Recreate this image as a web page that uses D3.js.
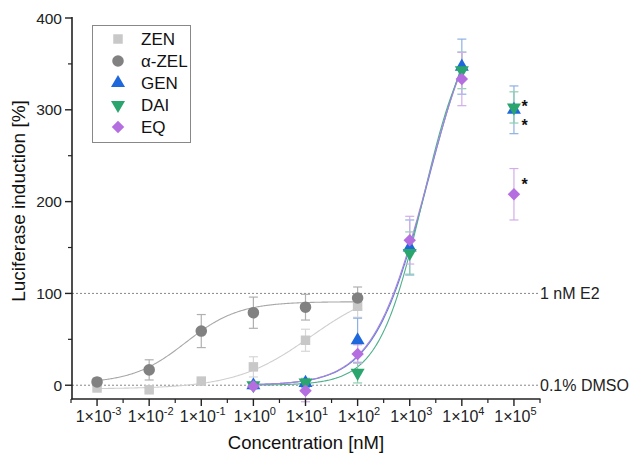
<!DOCTYPE html>
<html><head><meta charset="utf-8">
<script src="https://cdn.jsdelivr.net/npm/d3@7"></script>
<style>body{margin:0;background:#fff;} text{font-family:"Liberation Sans",Arial,sans-serif;}</style>
</head><body>
<svg id="c" width="630" height="457"></svg>
<script>
// ---- data ----
const xTickExps = [-3,-2,-1,0,1,2,3,4,5];
const yTicks = [0,100,200,300,400];
const seriesNames = ["ZEN","α-ZEL","GEN","DAI","EQ"];
const zenExp = [-3,-2,-1,0,1,2];
const zenVal = [-3,-5,4.5,20,49,86];
const zenErr = [2,2,2,11,12,12];
const azelExp = [-3,-2,-1,0,1,2];
const azelVal = [3.6,16.7,59,79,85,95];
const azelErr = [4,11,18,17,14,12];
const genExp = [0,1,2,3,4,5];
const genVal = [0,2.5,49,150,347,300];
const genErr = [3,5,24,30,30,26];
const daiExp = [0,1,2,3,4,5];
const daiVal = [0,3,13.5,144,343,302.6];
const daiErr = [3,4,11,23,20,17];
const eqExp = [0,1,2,3,4,5];
const eqVal = [-1,-6,34,158,333.5,208];
const eqErr = [3,12,10,26,29,28];
// 4PL fit parameters [bottom, top, logEC50, hill] and fitted range (log10 nM)
const zenFit = [-4,110,1.1,0.6], zenFitRange = [-3,2];
const azelFit = [2,91,-1.3,0.85], azelFitRange = [-3,2];
const genFit = [0,450,3.363,0.829], genFitRange = [0,4];
const daiFit = [0,400,3.243,1.029], daiFitRange = [0,4];
const eqFit = [0,440,3.33,0.83], eqFitRange = [0,4];
const refLines = [100,0];
const refLabels = ["1 nM E2","0.1% DMSO"];
const starVals = [302.6,300,208]; // DAI, GEN, EQ at 1e5 (significance markers)

const svg = d3.select("#c");
const x = d3.scaleLog().domain([Math.pow(10,-3.5),Math.pow(10,5.5)]).range([71,540]);
const y = d3.scaleLinear().domain([-15,400]).range([399,18]);

// reference lines
refLines.forEach((v,i)=>{
  svg.append("line").attr("x1",72).attr("x2",538).attr("y1",y(v)).attr("y2",y(v))
    .attr("stroke","#888").attr("stroke-width",1).attr("stroke-dasharray","2,2");
  svg.append("text").attr("x",540).attr("y",y(v)+5.5).attr("font-size",16).attr("fill","#222").text(refLabels[i]);
});

const fourPL = (p,e)=> p[0] + (p[1]-p[0])/(1+Math.pow(10,(p[2]-e)*p[3]));
const series = [
  {exp:zenExp,val:zenVal,err:zenErr,fit:zenFit,rng:zenFitRange,color:"#c8c8c8",line:"#cfcfcf",ebar:"#d6d6d6",shape:"square"},
  {exp:azelExp,val:azelVal,err:azelErr,fit:azelFit,rng:azelFitRange,color:"#818181",line:"#a8a8a8",ebar:"#b0b0b0",shape:"circle"},
  {exp:genExp,val:genVal,err:genErr,fit:genFit,rng:genFitRange,color:"#1f68dc",line:"#5a7fd0",ebar:"#8fb0e6",shape:"up"},
  {exp:daiExp,val:daiVal,err:daiErr,fit:daiFit,rng:daiFitRange,color:"#2aa56d",line:"#4fb08a",ebar:"#8ccfae",shape:"down"},
  {exp:eqExp,val:eqVal,err:eqErr,fit:eqFit,rng:eqFitRange,color:"#b46ee0",line:"#a983dd",ebar:"#d2ade9",shape:"diamond"}
];

// fitted curves
const line = d3.line().x(d=>x(Math.pow(10,d[0]))).y(d=>y(d[1])).curve(d3.curveLinear);
series.forEach(s=>{
  const pts = d3.range(s.rng[0], s.rng[1]+0.0001, 0.02).map(e=>[e,fourPL(s.fit,e)]);
  svg.append("path").attr("d",line(pts)).attr("fill","none").attr("stroke",s.line).attr("stroke-width",1.1);
});

// error bars
series.forEach(s=>{
  s.exp.forEach((e,i)=>{
    const cx = x(Math.pow(10,e));
    const g = svg.append("g").attr("stroke",s.ebar).attr("stroke-width",1.2);
    g.append("line").attr("x1",cx).attr("x2",cx).attr("y1",y(s.val[i]-s.err[i])).attr("y2",y(s.val[i]+s.err[i]));
    [s.val[i]-s.err[i], s.val[i]+s.err[i]].forEach(v=>{
      g.append("line").attr("x1",cx-4.5).attr("x2",cx+4.5).attr("y1",y(v)).attr("y2",y(v));
    });
  });
});

const symPath = {
  square: d3.symbol(d3.symbolSquare, 90)(),
  circle: d3.symbol(d3.symbolCircle, 105)(),
  up: d3.symbol(d3.symbolTriangle, 85)(),
  down: d3.symbol(d3.symbolTriangle, 85)(),
  diamond: d3.symbol(d3.symbolSquare, 78)()
};
function drawMarker(g, shape, cx, cy, color){
  let tr = `translate(${cx},${cy})`;
  if(shape==="down") tr += " rotate(180)";
  if(shape==="diamond") tr += " rotate(45)";
  g.append("path").attr("d",symPath[shape]).attr("transform",tr).attr("fill",color);
}
series.forEach(s=>{
  s.exp.forEach((e,i)=> drawMarker(svg, s.shape, x(Math.pow(10,e)), y(s.val[i]), s.color));
});

// significance stars (placed beside the 1e5 points)
const starShift = [-4.7, 12, -13.5];
starVals.forEach((v,i)=>{
  svg.append("text").attr("x",x(1e5)+7.5).attr("y",y(v)+starShift[i]+9)
    .attr("font-size",16).attr("font-weight","bold").attr("fill","#111").text("*");
});

// axes
const axisColor = "#222";
const ax = svg.append("g");
ax.append("line").attr("x1",72).attr("x2",72).attr("y1",17).attr("y2",399.5).attr("stroke",axisColor).attr("stroke-width",1.6);
ax.append("line").attr("x1",71.2).attr("x2",540.5).attr("y1",399).attr("y2",399).attr("stroke",axisColor).attr("stroke-width",1.6);
yTicks.forEach(v=>{
  ax.append("line").attr("x1",65).attr("x2",72).attr("y1",y(v)).attr("y2",y(v)).attr("stroke",axisColor).attr("stroke-width",1.4);
  ax.append("text").attr("x",62).attr("y",y(v)+5.5).attr("text-anchor","end").attr("font-size",15.5).attr("fill","#222").text(v);
});
yTicks.slice(0,-1).forEach(v=>{
  ax.append("line").attr("x1",68).attr("x2",72).attr("y1",y(v+50)).attr("y2",y(v+50)).attr("stroke",axisColor).attr("stroke-width",1.2);
});
xTickExps.forEach(e=>{
  const cx = x(Math.pow(10,e));
  ax.append("line").attr("x1",cx).attr("x2",cx).attr("y1",399).attr("y2",406).attr("stroke",axisColor).attr("stroke-width",1.4);
  const t = ax.append("text").attr("x",cx+1.5).attr("y",422).attr("text-anchor","middle").attr("font-size",16).attr("fill","#222");
  t.append("tspan").text("1×10");
  t.append("tspan").attr("dy",-7).attr("font-size",11).text(e<0 ? "-"+Math.abs(e) : String(e));
});
d3.range(-3.5,5.6,1).forEach(e=>{
  const cx = x(Math.pow(10,e));
  ax.append("line").attr("x1",cx).attr("x2",cx).attr("y1",399).attr("y2",403).attr("stroke",axisColor).attr("stroke-width",1.2);
});
svg.append("text").attr("x",306).attr("y",449).attr("text-anchor","middle").attr("font-size",18.5).attr("fill","#111").text("Concentration [nM]");
svg.append("text").attr("transform","translate(25,201) rotate(-90)").attr("text-anchor","middle").attr("font-size",19).attr("fill","#111").text("Luciferase induction [%]");

// legend
const lg = svg.append("g");
lg.append("rect").attr("x",92.5).attr("y",25.5).attr("width",98).attr("height",117).attr("fill","#fff").attr("stroke","#888").attr("stroke-width",1);
const legY = [39,61,83,105,127];
series.forEach((s,i)=>{
  drawMarker(lg, s.shape, 118, legY[i], s.color);
  lg.append("text").attr("x",141).attr("y",legY[i]+6).attr("font-size",17).attr("fill","#111").text(seriesNames[i]);
});
</script>
</body></html>
